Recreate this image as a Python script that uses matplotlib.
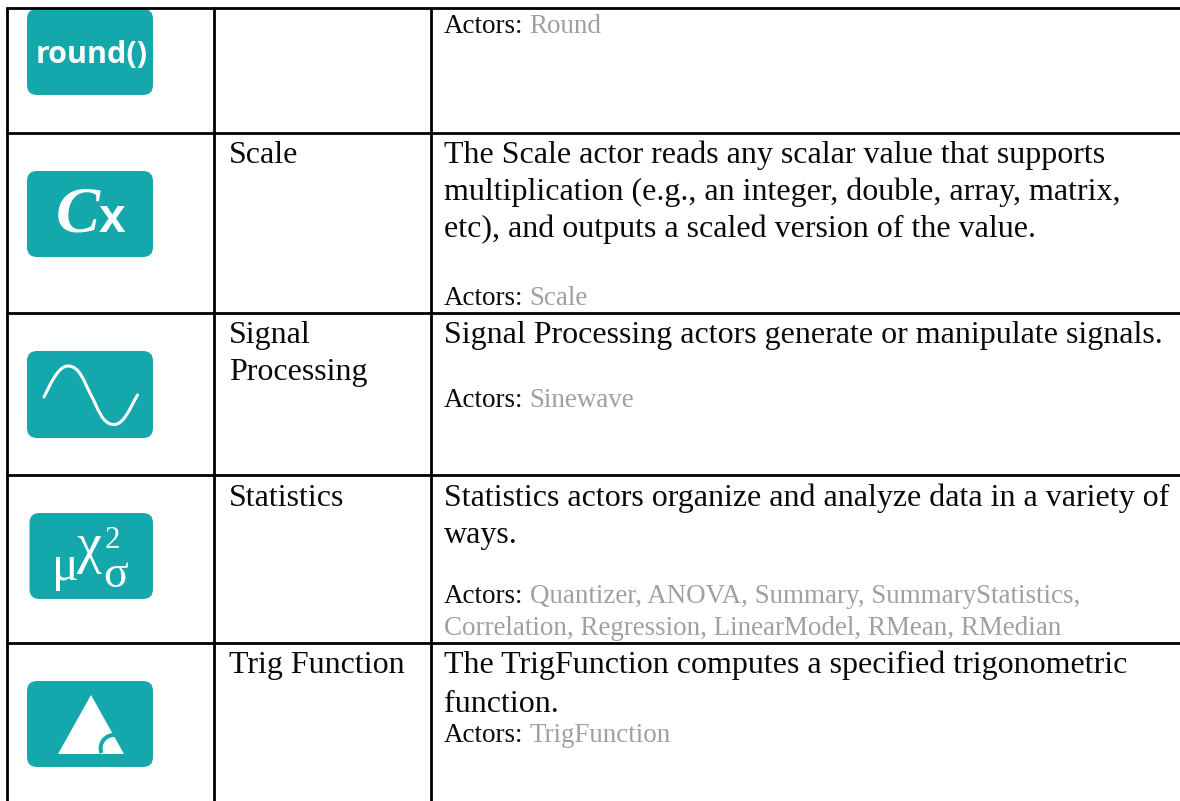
import matplotlib
matplotlib.use("Agg")
import matplotlib.pyplot as plt
from matplotlib.patches import FancyBboxPatch, Polygon, Wedge, PathPatch
from matplotlib.path import Path

TEAL = "#14a7ab"
GRAY = "#a0a0a0"
INK = "#0a0a0a"

# table text, row by row
NAMES = [[], ["Scale"], ["Signal", "Processing"], ["Statistics"], ["Trig Function"]]
DESCRIPTIONS = [
    [],
    ["The Scale actor reads any scalar value that supports",
     "multiplication (e.g., an integer, double, array, matrix,",
     "etc), and outputs a scaled version of the value."],
    ["Signal Processing actors generate or manipulate signals."],
    ["Statistics actors organize and analyze data in a variety of",
     "ways."],
    ["The TrigFunction computes a specified trigonometric",
     "function."],
]
ACTORS = [
    ["Round"],
    ["Scale"],
    ["Sinewave"],
    ["Quantizer, ANOVA, Summary, SummaryStatistics,",
     "Correlation, Regression, LinearModel, RMean, RMedian"],
    ["TrigFunction"],
]

# baselines in pixels from the top of the picture
NAME_Y = [[], [163], [343, 380], [506], [673]]
DESC_Y = [[], [163, 200, 237], [343], [506, 543], [673, 712]]
ACTOR_Y = [[33], [305], [407], [603, 635], [742]]

ROW_LINES = [8, 133, 313, 475, 643]
COL_LINES = [7.3, 214, 430.7]
ICON_BOXES = [(27, 9, 153, 95), (27, 171, 153, 257), (27, 351, 153, 438),
              (29.5, 513, 153, 599), (27, 681, 153, 767)]

fig = plt.figure(figsize=(11.8, 8.01), dpi=100)
ax = fig.add_axes([0, 0, 1, 1])
ax.set_xlim(0, 1180)
ax.set_ylim(801, 0)
ax.axis("off")

plt.rcParams["font.family"] = "Liberation Serif"
PX = 72 / 100


def label(x, y, s, px, color=INK, **kw):
    return ax.text(x, y, s, fontsize=px * PX, color=color, va="baseline", **kw)


# grid
for y in ROW_LINES:
    ax.plot([6, 1180], [y, y], color="black", lw=2.0, solid_capstyle="butt")
for x in COL_LINES:
    ax.plot([x, x], [7, 801], color="black", lw=2.0, solid_capstyle="butt")

# icons
for x0, y0, x1, y1 in ICON_BOXES:
    ax.add_patch(FancyBboxPatch((x0 + 10, y0 + 10), x1 - x0 - 20, y1 - y0 - 20,
                                boxstyle="round,pad=10,rounding_size=10",
                                fc=TEAL, ec="none"))

label(91.5, 63, "round()", 30.5, color="white", family="Open Sans",
      weight="bold", ha="center")
label(56, 232, "C", 66, color="white", style="italic", weight="bold")
label(99, 232, "x", 48, color="white", weight="bold", family="Liberation Sans")

sine = [(44, 397), (50, 385), (58, 366), (68, 366), (80, 366), (84, 382), (91, 395),
        (98, 408), (102, 424.5), (114, 424.5), (124, 424.5), (130, 408), (137.5, 395)]
ax.add_patch(PathPatch(Path(sine, [Path.MOVETO] + [Path.CURVE4] * 12),
                       fc="none", ec="white", lw=2.2, capstyle="round"))

label(52, 580, "\u03bc", 50, color="white")
label(77, 562, "\u03c7", 56, color="white")
label(105, 548, "2", 31, color="white")
label(103, 587, "\u03c3", 46, color="white")

ax.add_patch(Polygon([(91, 695), (58, 754), (124, 754)], fc="white", ec="none"))
ax.add_patch(Wedge((114, 748.4), 15.4, 159, 320, width=4, fc=TEAL, ec="none"))

# text columns
for lines, ys in zip(NAMES, NAME_Y):
    for s, y in zip(lines, ys):
        label(229, y, s, 32)
for lines, ys in zip(DESCRIPTIONS, DESC_Y):
    for s, y in zip(lines, ys):
        label(444, y, s, 32)

renderer = fig.canvas.get_renderer()
for lines, ys in zip(ACTORS, ACTOR_Y):
    for i, (s, y) in enumerate(zip(lines, ys)):
        x = 444
        if i == 0:
            head = label(x, y, "Actors:", 27)
            x += head.get_window_extent(renderer).width + 6
        label(x, y, s, 27, color=GRAY)

fig.savefig("out.png", dpi=100)
